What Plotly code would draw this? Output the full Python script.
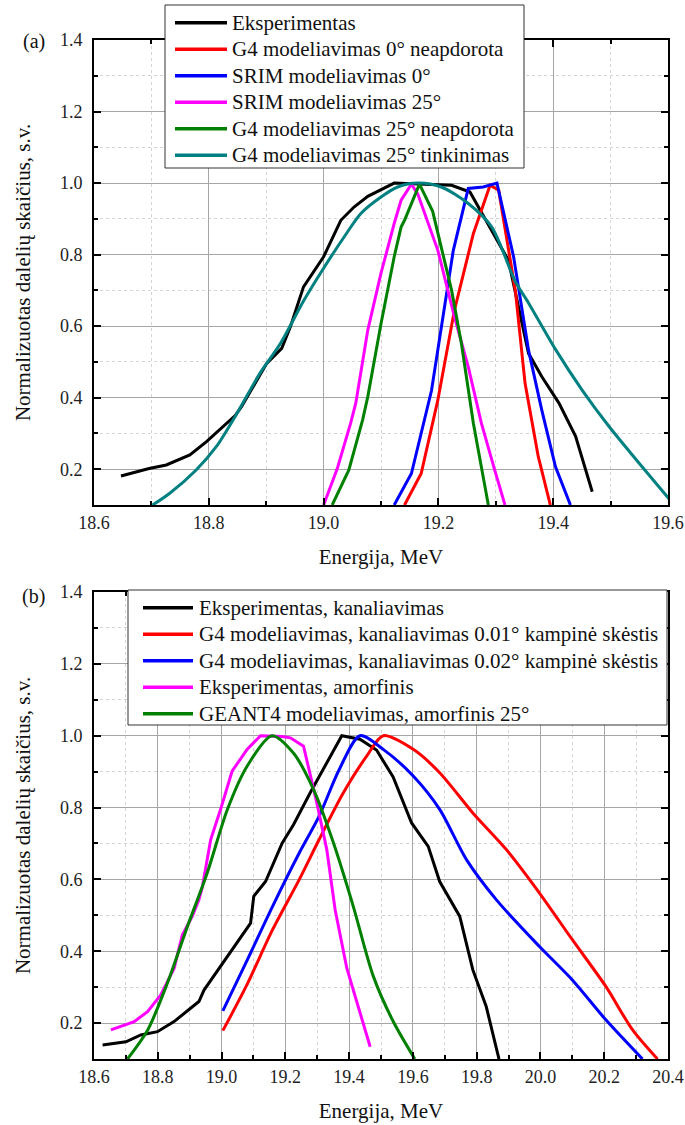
import plotly.graph_objects as go

# ---------------- (a) panel data ----------------
exp_a_x = [18.647, 18.696, 18.726, 18.767, 18.796, 18.846, 18.857, 18.884, 18.901, 18.927,
           18.942, 18.965, 19.000, 19.030, 19.053, 19.077, 19.100, 19.123, 19.176, 19.223,
           19.255, 19.287, 19.322, 19.357, 19.380, 19.410, 19.439, 19.468]
exp_a_y = [0.181, 0.202, 0.212, 0.240, 0.277, 0.350, 0.375, 0.449, 0.496, 0.538,
           0.598, 0.710, 0.794, 0.896, 0.933, 0.963, 0.981, 1.000, 0.997, 0.994,
           0.975, 0.882, 0.784, 0.524, 0.459, 0.385, 0.292, 0.137]

g4_0_x = [19.141, 19.170, 19.199, 19.228, 19.261, 19.290, 19.305, 19.334, 19.351, 19.374, 19.395]
g4_0_y = [0.100, 0.188, 0.393, 0.645, 0.859, 0.994, 0.980, 0.700, 0.440, 0.235, 0.100]

srim_0_x = [19.123, 19.153, 19.188, 19.202, 19.226, 19.252, 19.278, 19.302, 19.331, 19.357,
            19.380, 19.404, 19.430]
srim_0_y = [0.100, 0.188, 0.420, 0.560, 0.812, 0.985, 0.989, 1.000, 0.794, 0.533,
            0.366, 0.207, 0.100]

srim_25_x = [19.000, 19.024, 19.047, 19.056, 19.077, 19.100, 19.123, 19.135, 19.153, 19.164,
             19.199, 19.228, 19.252, 19.275, 19.298, 19.316]
srim_25_y = [0.100, 0.203, 0.328, 0.384, 0.589, 0.748, 0.887, 0.952, 0.997, 0.970,
             0.812, 0.626, 0.486, 0.328, 0.198, 0.100]

g4_25_x = [19.015, 19.044, 19.068, 19.077, 19.100, 19.123, 19.135, 19.141, 19.167, 19.190,
           19.223, 19.240, 19.261, 19.275, 19.287]
g4_25_y = [0.100, 0.198, 0.338, 0.403, 0.607, 0.794, 0.877, 0.896, 0.997, 0.921,
           0.700, 0.552, 0.328, 0.207, 0.100]

fit_25_x = [18.702, 18.732, 18.778, 18.813, 18.849, 18.889, 18.925, 18.966, 19.000, 19.036,
            19.065, 19.100, 19.129, 19.164, 19.205, 19.252, 19.293, 19.334, 19.357, 19.404,
            19.451, 19.498, 19.545, 19.606]
fit_25_y = [0.100, 0.133, 0.198, 0.263, 0.356, 0.468, 0.552, 0.673, 0.762, 0.850,
            0.915, 0.961, 0.989, 1.000, 0.989, 0.943, 0.877, 0.725, 0.665, 0.535,
            0.420, 0.318, 0.226, 0.109]

# ---------------- (b) panel data ----------------
chan_exp_x = [18.627, 18.700, 18.747, 18.799, 18.851, 18.929, 18.945, 18.997, 19.049, 19.091,
              19.101, 19.138, 19.190, 19.226, 19.278, 19.330, 19.377, 19.434, 19.486, 19.538,
              19.596, 19.648, 19.684, 19.747, 19.788, 19.830, 19.851, 19.870]
chan_exp_y = [0.139, 0.148, 0.167, 0.176, 0.204, 0.260, 0.292, 0.357, 0.423, 0.478,
              0.553, 0.594, 0.701, 0.753, 0.841, 0.925, 1.000, 0.990, 0.960, 0.885,
              0.757, 0.692, 0.594, 0.497, 0.348, 0.246, 0.172, 0.100]

chan_001_x = [19.004, 19.077, 19.160, 19.244, 19.306, 19.382, 19.455, 19.507, 19.601, 19.684,
              19.788, 19.893, 19.997, 20.100, 20.205, 20.289, 20.367]
chan_001_y = [0.179, 0.302, 0.460, 0.600, 0.711, 0.841, 0.943, 1.000, 0.962, 0.897,
              0.785, 0.683, 0.562, 0.432, 0.302, 0.181, 0.100]

chan_002_x = [19.004, 19.077, 19.160, 19.244, 19.306, 19.369, 19.434, 19.507, 19.601, 19.684,
              19.768, 19.862, 19.997, 20.100, 20.205, 20.320]
chan_002_y = [0.234, 0.369, 0.525, 0.674, 0.776, 0.906, 1.000, 0.962, 0.888, 0.795,
              0.655, 0.543, 0.413, 0.320, 0.209, 0.100]

amor_exp_x = [18.653, 18.726, 18.768, 18.809, 18.851, 18.877, 18.908, 18.929, 18.940, 18.966,
              18.997, 19.033, 19.080, 19.122, 19.190, 19.216, 19.257, 19.299, 19.330, 19.356,
              19.393, 19.434, 19.466]
amor_exp_y = [0.181, 0.204, 0.232, 0.278, 0.352, 0.445, 0.497, 0.543, 0.580, 0.711,
              0.795, 0.901, 0.962, 1.000, 0.998, 0.994, 0.971, 0.812, 0.683, 0.516,
              0.352, 0.232, 0.134]

amor_g4_x = [18.705, 18.768, 18.830, 18.893, 18.955, 19.018, 19.080, 19.158, 19.226, 19.289,
             19.351, 19.413, 19.476, 19.538, 19.606]
amor_g4_y = [0.100, 0.180, 0.311, 0.469, 0.618, 0.794, 0.915, 1.000, 0.951, 0.849,
             0.701, 0.525, 0.330, 0.205, 0.100]

# axis ticks
x_ticks_a = [18.6, 18.8, 19.0, 19.2, 19.4, 19.6]
x_ticks_b = [18.6, 18.8, 19.0, 19.2, 19.4, 19.6, 19.8, 20.0, 20.2, 20.4]
y_ticks = [0.2, 0.4, 0.6, 0.8, 1.0, 1.2, 1.4]

SERIF = "Liberation Serif"
LW = 3
W, H = 685, 1125
ML, MR, MT, MB = 94, 17, 40, 66
PW, PH = W - ML - MR, H - MT - MB


def paper_x(px):
    return (px - ML) / PW


def paper_y(py):
    return (H - MB - py) / PH


fig = go.Figure()

# (name, x, y, colour, smooth?)
panel_a = [
    ("Eksperimentas", exp_a_x, exp_a_y, "#000000", False),
    ("G4 modeliavimas 0° neapdorota", g4_0_x, g4_0_y, "#ff0000", False),
    ("SRIM modeliavimas 0°", srim_0_x, srim_0_y, "#0000ff", False),
    ("SRIM modeliavimas 25°", srim_25_x, srim_25_y, "#ff00ff", False),
    ("G4 modeliavimas 25° neapdorota", g4_25_x, g4_25_y, "#008000", False),
    ("G4 modeliavimas 25° tinkinimas", fit_25_x, fit_25_y, "#008080", True),
]
panel_b = [
    ("Eksperimentas, kanaliavimas", chan_exp_x, chan_exp_y, "#000000", False),
    ("G4 modeliavimas, kanaliavimas 0.01° kampinė skėstis", chan_001_x, chan_001_y, "#ff0000", True),
    ("G4 modeliavimas, kanaliavimas 0.02° kampinė skėstis", chan_002_x, chan_002_y, "#0000ff", True),
    ("Eksperimentas, amorfinis", amor_exp_x, amor_exp_y, "#ff00ff", False),
    ("GEANT4 modeliavimas, amorfinis 25°", amor_g4_x, amor_g4_y, "#008000", True),
]

for series, xa, ya in ((panel_a, "x", "y"), (panel_b, "x2", "y2")):
    for name, xs, ys, col, smooth in series:
        fig.add_trace(go.Scatter(
            x=xs, y=ys, mode="lines", name=name, showlegend=False,
            line=dict(color=col, width=LW, shape="spline" if smooth else "linear",
                      smoothing=0.8),
            xaxis=xa, yaxis=ya))


def axis_common():
    return dict(
        showline=True, linecolor="black", linewidth=2,
        mirror="allticks", ticks="inside", ticklen=7, tickwidth=1.5, tickcolor="black",
        showgrid=True, gridcolor="#a6a6a6", gridwidth=1,
        minor=dict(dtick=0.1, tick0=0, ticks="inside", ticklen=4, tickcolor="black",
                   showgrid=True, gridcolor="#d4d4d4", griddash="dot", gridwidth=1),
        tickfont=dict(family=SERIF, size=18, color="#222"),
        zeroline=False,
    )


def xaxis_style(rng, ticks, anchor):
    d = axis_common()
    d.update(range=rng, tickvals=ticks, ticktext=[f"{t:.1f}" for t in ticks], anchor=anchor,
             title=dict(text="Energija, MeV", font=dict(family=SERIF, size=21, color="#111"),
                        standoff=18))
    return d


def yaxis_style(domain, anchor):
    d = axis_common()
    d.update(range=[0.1, 1.4], domain=domain, tickvals=y_ticks,
             ticktext=[f"{t:.1f}" for t in y_ticks], anchor=anchor, ticklabelstandoff=6,
             title=dict(text="Normalizuotas dalelių skaičius, s.v.",
                        font=dict(family=SERIF, size=21, color="#111"), standoff=24))
    return d


fig.update_layout(
    width=W, height=H,
    margin=dict(l=ML, r=MR, t=MT, b=MB),
    paper_bgcolor="white", plot_bgcolor="white",
    template="none",
    font=dict(family=SERIF),
    xaxis=xaxis_style([18.6, 19.6], x_ticks_a, "y"),
    yaxis=yaxis_style([paper_y(505), 1.0], "x"),
    xaxis2=xaxis_style([18.6, 20.4], x_ticks_b, "y2"),
    yaxis2=yaxis_style([0.0, paper_y(592)], "x2"),
    showlegend=False,
)

# Legend boxes: frame, line sample and label for every series of a panel
legend_boxes = [
    # series, box (left, top, right, bottom) px, first row centre, row step, sample x0, x1, text x
    (panel_a, (165, 5, 524, 168), 22.7, 26.5, 175, 227, 230),
    (panel_b, (128, 590, 667, 725), 607.7, 26.5, 143, 193, 197),
]
for series, (bl, bt, br, bb), row0, step, sx0, sx1, tx in legend_boxes:
    fig.add_shape(type="rect", xref="paper", yref="paper",
                  x0=paper_x(bl), x1=paper_x(br), y0=paper_y(bb), y1=paper_y(bt),
                  fillcolor="white", line=dict(color="#333", width=1), layer="above")
    for i, (name, _, _, col, _) in enumerate(series):
        yy = paper_y(row0 + step * i)
        fig.add_shape(type="line", xref="paper", yref="paper",
                      x0=paper_x(sx0), x1=paper_x(sx1), y0=yy, y1=yy,
                      line=dict(color=col, width=3.5), layer="above")
        fig.add_annotation(text=name, xref="paper", yref="paper", x=paper_x(tx), y=yy,
                           xanchor="left", yanchor="middle", showarrow=False,
                           font=dict(family=SERIF, size=21, color="#111"))

# panel labels
for lab, py in (("(a)", 42), ("(b)", 596)):
    fig.add_annotation(text=lab, xref="paper", yref="paper", x=paper_x(47), y=paper_y(py),
                       xanchor="right", yanchor="middle", showarrow=False,
                       font=dict(family=SERIF, size=20, color="#111"))

fig.write_html("out.html")
